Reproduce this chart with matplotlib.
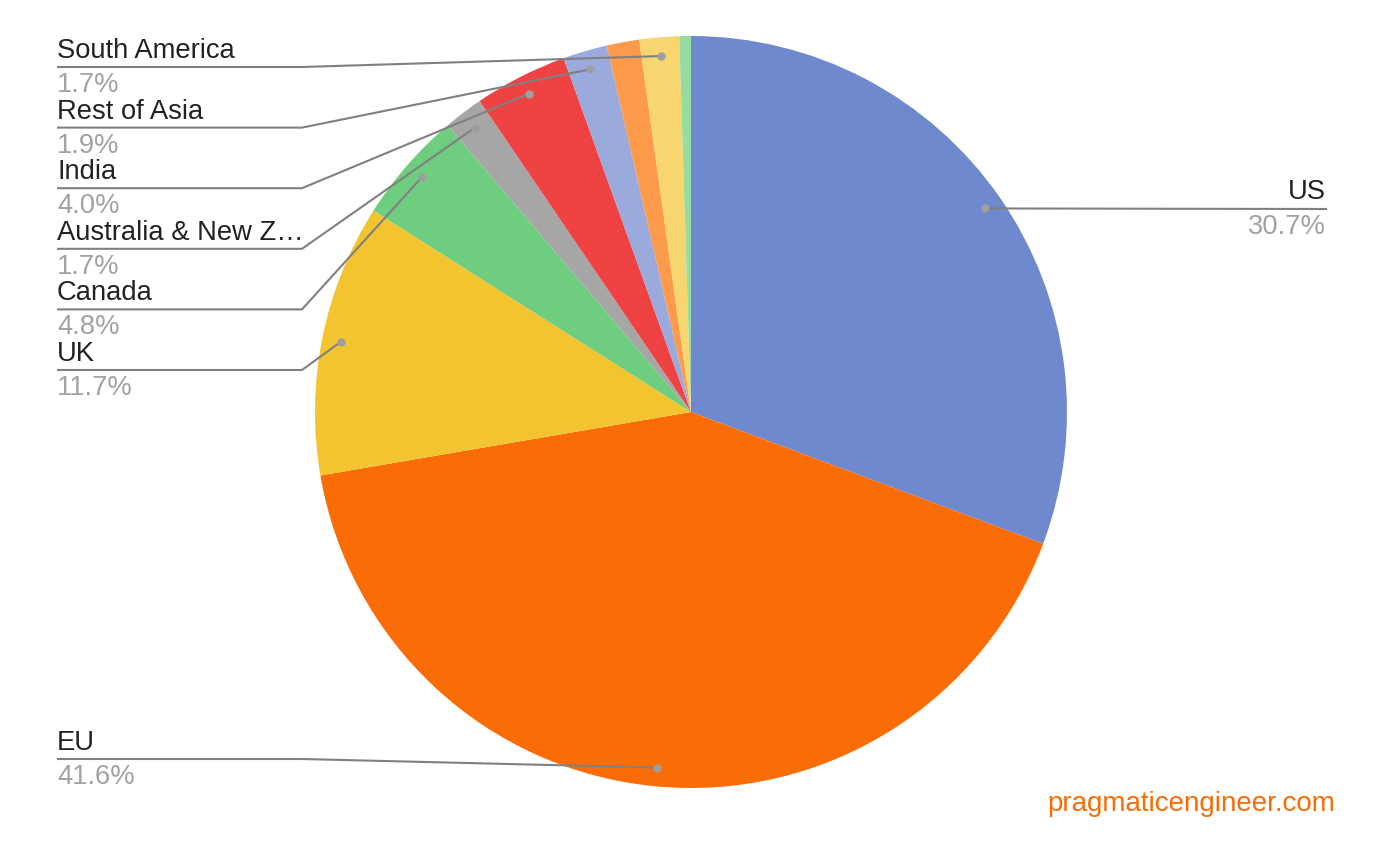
import matplotlib.pyplot as plt
import numpy as np

plt.rcParams['font.family'] = ['Liberation Sans', 'DejaVu Sans']

# slices clockwise from 12 o'clock
regions = ["US", "EU", "UK", "Canada", "Australia & New Z…", "India",
           "Rest of Asia", "Other", "South America", "Africa"]
shares = [30.7, 41.6, 11.7, 4.8, 1.7, 4.0, 1.9, 1.4, 1.7, 0.5]
colors = ["#6f89cf", "#fa6c05", "#f2c430", "#6fcd80", "#a6a6a6", "#ef4343",
          "#9aaadd", "#fd9a4b", "#f8d66f", "#95dba2"]
# which slices get a label, and on which side / row
left_rows = {"South America": 0, "Rest of Asia": 1, "India": 2,
             "Australia & New Z…": 3, "Canada": 4, "UK": 5}

W, H = 1390, 850
fig = plt.figure(figsize=(W / 100, H / 100), dpi=100)
ax = fig.add_axes([0, 0, 1, 1])

cx, cy, R = 691, H - 412, 376
wedges, _ = ax.pie(shares, colors=colors, startangle=90, counterclock=False,
                   center=(cx, cy), radius=R, wedgeprops=dict(linewidth=0))
ax.set_xlim(0, W)
ax.set_ylim(0, H)
ax.set_aspect('equal')
ax.axis('off')

line_c = "#808080"
dot_c = "#9e9e9e"
name_c = "#222222"
pct_c = "#a2a2a2"
fs = 19.7


def dot_of(w):
    a = np.deg2rad((w.theta1 + w.theta2) / 2)
    return cx + 0.95 * R * np.cos(a), cy + 0.95 * R * np.sin(a)


def left_label(w, name, pct, uy):
    dx, dy = dot_of(w)
    y = H - uy
    ax.plot([57, 302, dx], [y, y, dy], color=line_c, lw=1.5, solid_capstyle='butt', zorder=3)
    ax.plot(dx, dy, 'o', ms=6, color=dot_c, mec='none', zorder=4)
    ax.text(57, y + 9, name, fontsize=fs, color=name_c, va='baseline', ha='left')
    ax.text(57, y - 25, "%.1f%%" % pct, fontsize=fs, color=pct_c, va='baseline', ha='left')


for w, name, pct in zip(wedges, regions, shares):
    if name in left_rows:
        left_label(w, name, pct, 67 + 60.6 * left_rows[name])
    elif name == "EU":
        left_label(w, name, pct, 759)
    elif name == "US":
        dx, dy = dot_of(w)
        y = H - 209
        ax.plot([dx, 1326], [dy, y], color=line_c, lw=1.5, zorder=3)
        ax.plot(dx, dy, 'o', ms=6, color=dot_c, mec='none', zorder=4)
        ax.text(1326, y + 10, name, fontsize=fs, color=name_c, va='baseline', ha='right')
        ax.text(1326, y - 25, "%.1f%%" % pct, fontsize=fs, color=pct_c, va='baseline', ha='right')

ax.text(1335, H - 811, "pragmaticengineer.com", fontsize=20, color="#fa6c05",
        ha='right', va='baseline')

fig.savefig("out.png", dpi=100)
